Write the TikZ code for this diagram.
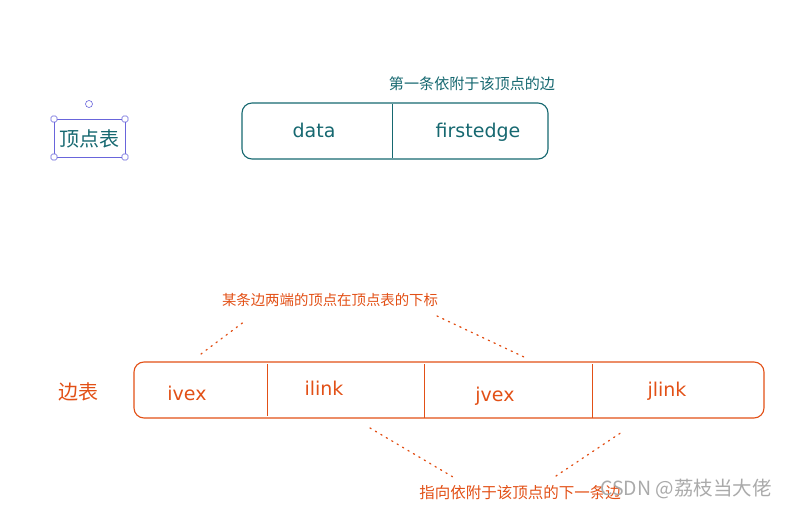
\documentclass[tikz,border=0pt]{standalone}
\usepackage{fontspec}
\setmainfont{DejaVu Sans}
\newfontfamily\cjk{Noto Sans CJK SC}
\definecolor{teal1}{RGB}{22,104,112}
\definecolor{org}{RGB}{226,80,22}
\definecolor{sel}{RGB}{105,101,219}
\definecolor{wm}{RGB}{170,170,170}
\tikzset{
  x=1pt,y=-1pt,
  cjksmall/.style={font=\cjk\fontsize{14.4}{16}\selectfont,inner sep=0pt},
  cjkbig/.style={font=\cjk\fontsize{20}{22}\selectfont,inner sep=0pt},
  field/.style={font=\fontsize{19}{21}\selectfont,inner sep=0pt},
  frame/.style={line width=1.1pt,rounded corners=10pt},
  divider/.style={line width=1pt},
  dots/.style={org,line width=1.3pt,dash pattern=on 1.3pt off 5pt,line cap=round},
  handle/.style={draw=sel,fill=white,line width=0.6pt,minimum size=6pt,inner sep=0pt,rectangle,rounded corners=1.5pt},
}
\begin{document}
\begin{tikzpicture}
\useasboundingbox (0,0) rectangle (787,508);
% vertex table
\node[cjksmall,font=\cjk\fontsize{15.1}{17}\selectfont,text=teal1] (t1) at (472,84) {第一条依附于该顶点的边};
\draw[teal1,frame] (242,103) rectangle (548,159);
\coordinate (d1a) at (392,104);
\coordinate (d1b) at (392,158);
\draw[teal1,divider] (d1a) -- (d1b);
\node[field,text=teal1] (data) at (314,130) {data};
\node[field,text=teal1] (first) at (478,132) {firstedge};
% selected label
\node[cjkbig,text=teal1] (vt) at (89,139) {顶点表};
\draw[sel,line width=0.8pt] (54,119) rectangle (125,157);
\node[handle] (h1) at (54,119) {};
\node[handle] (h2) at (125,119) {};
\node[handle] (h3) at (54,157) {};
\node[handle] (h4) at (125,157) {};
\node[draw=sel,circle,line width=0.6pt,minimum size=7pt,inner sep=0pt] (rot) at (89,104) {};
% edge table
\node[cjkbig,text=org] (et) at (78,392) {边表};
\node[cjksmall,text=org] (t2) at (330,300) {某条边两端的顶点在顶点表的下标};
\draw[org,frame] (134,362) rectangle (764,418);
\coordinate (e1a) at (267,364); \coordinate (e1b) at (267,416);
\coordinate (e2a) at (424,364); \coordinate (e2b) at (424,418);
\coordinate (e3a) at (592,364); \coordinate (e3b) at (592,418);
\draw[org,divider] (e1a) -- (e1b);
\draw[org,divider] (e2a) -- (e2b);
\draw[org,divider] (e3a) -- (e3b);
\node[field,text=org] (ivex) at (187,393) {ivex};
\node[field,text=org] (ilink) at (324,388) {ilink};
\node[field,text=org] (jvex) at (495,396) {jvex};
\node[field,text=org] (jlink) at (667,391) {jlink};
% dotted pointers
\coordinate (p1a) at (201,354); \coordinate (p1b) at (245,321);
\coordinate (p2a) at (437,316); \coordinate (p2b) at (524,357);
\coordinate (p3a) at (370,428); \coordinate (p3b) at (453,477);
\coordinate (p4a) at (556,476); \coordinate (p4b) at (622,432);
\draw[dots] (p1a) -- (p1b);
\draw[dots] (p2a) -- (p2b);
\draw[dots] (p3a) -- (p3b);
\draw[dots] (p4a) -- (p4b);
\node[cjksmall,font=\cjk\fontsize{15.5}{17}\selectfont,text=org] (t3) at (520,493) {指向依附于该顶点的下一条边};
\node[font=\cjk\fontsize{19.5}{22}\selectfont,text=wm,inner sep=0pt] (wmk) at (686,489) {CSDN @荔枝当大佬};
\end{tikzpicture}
\end{document}
